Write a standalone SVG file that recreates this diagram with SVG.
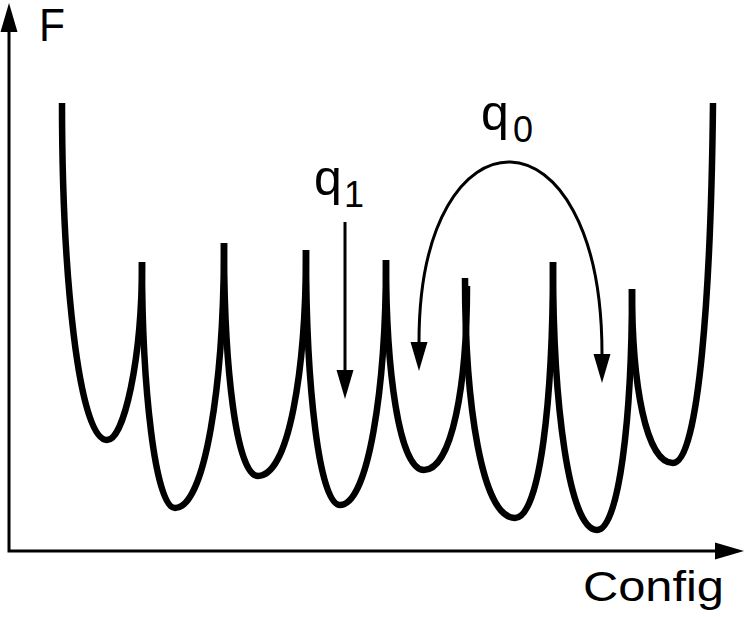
<svg xmlns="http://www.w3.org/2000/svg" width="747" height="617" viewBox="0 0 747 617">
  <style>
    .well { fill: none; stroke: #000; stroke-width: 6.5; stroke-linecap: butt; stroke-linejoin: round; }
    .axis { fill: none; stroke: #000; stroke-width: 3; }
    .arrow { fill: none; stroke: #000; stroke-width: 3; }
    .lbl { font-family: "Liberation Sans", Arial, Helvetica, sans-serif; fill: #000; }
  </style>
  <defs>
    <marker id="head" markerUnits="userSpaceOnUse" markerWidth="30" markerHeight="18" refX="0" refY="8.5" orient="auto-start-reverse" viewBox="0 0 30 17">
      <path d="M0,0 L29,8.5 L0,17 z" fill="#000"/>
    </marker>
  </defs>

  <g id="axes">
    <path class="axis" d="M9,32 L9,551 L715,551" marker-start="url(#head)" marker-end="url(#head)"/>
    <text class="lbl" x="39" y="41" font-size="46" textLength="26" lengthAdjust="spacingAndGlyphs">F</text>
    <text class="lbl" x="583" y="601" font-size="43" textLength="141" lengthAdjust="spacingAndGlyphs">Config</text>
  </g>

  <g id="landscape">
    <path id="well0" class="well" d="M62,103 C62,270 78,440 107,440 C124,440 142,360 142,262"/>
    <path id="well1" class="well" d="M142,262 C142,385 155,508 175,508 C205,508 224,385 224,243"/>
    <path id="well2" class="well" d="M224,243 C224,365 236,476 258,476 C289,476 306,370 306,250"/>
    <path id="well3" class="well" d="M306,250 C306,385 319,505 340,505 C368,505 386,390 386,260"/>
    <path id="well4" class="well" d="M386,260 C386,370 399,470 424,470 C452,470 467,385 467,286"/>
    <path id="well5" class="well" d="M465,278 C465,405 482,518 515,518 C540,518 553,400 553,262"/>
    <path id="well6" class="well" d="M553,262 C553,405 569,530 597,530 C619,530 632,418 632,289"/>
    <path id="well7" class="well" d="M632,289 C632,385 646,463 673,463 C699,463 711,290 713,103"/>
  </g>

  <g id="connectors">
    <path id="q1-arrow" class="arrow" d="M345,222 L345,370" marker-end="url(#head)"/>
    <path id="q0-arrow" class="arrow" d="M419,342 C419,100 602,100 602,354" marker-start="url(#head)" marker-end="url(#head)"/>
  </g>

  <g id="label-q1">
    <text class="lbl" x="314" y="195" font-size="50">q</text>
    <text class="lbl" x="344" y="207" font-size="36">1</text>
  </g>
  <g id="label-q0">
    <text class="lbl" x="481" y="130" font-size="50">q</text>
    <text class="lbl" x="513" y="142" font-size="36">0</text>
  </g>
</svg>
